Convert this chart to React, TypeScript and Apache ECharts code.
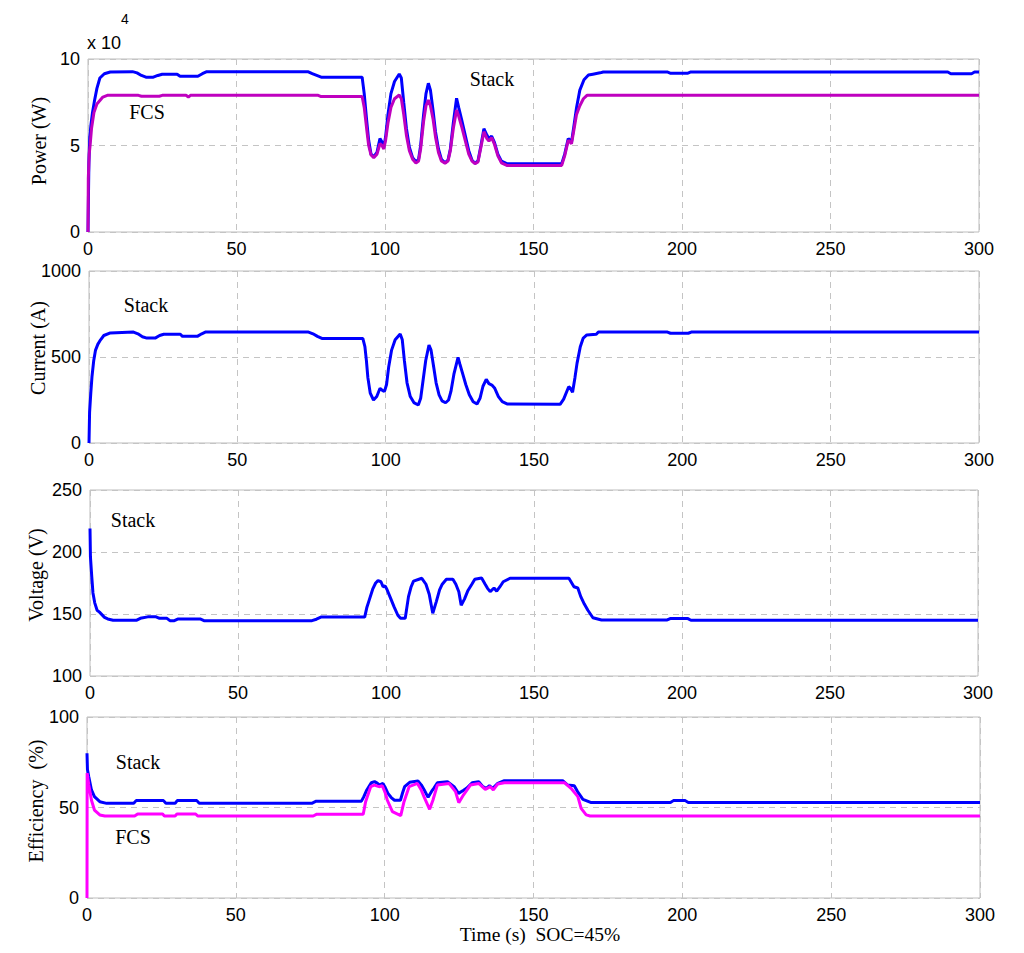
import React, { useEffect, useRef } from "react";
import * as echarts from "echarts";

// Time axis ticks (s)
const timeTicks = [0, 50, 100, 150, 200, 250, 300];

// Power (x 10^4 W)
const stackPower: number[][] = [
  [0, 0], [0.3, 4.0], [0.6, 5.5], [1.0, 6.2], [1.5, 6.9], [2.2, 7.6], [3, 8.3], [4, 8.9], [5.5, 9.15], [7.5, 9.25],
  [15, 9.27], [16.5, 9.2], [18, 9.05], [19.5, 8.95], [22, 8.95], [23.5, 9.05], [25, 9.12], [30, 9.12], [31, 9.0],
  [37, 9.0], [38.5, 9.15], [40, 9.27], [74, 9.27], [75.5, 9.15], [77, 9.05], [78.5, 8.95], [92.3, 8.95], [93, 8.0],
  [93.8, 6.5], [94.5, 5.3], [95.3, 4.5], [96.2, 4.35], [97.3, 4.6], [98.3, 5.4], [99, 5.2], [99.6, 4.9], [100.2, 5.5],
  [101, 6.8], [102, 8.0], [103.2, 8.7], [104.8, 9.13], [105.5, 8.9], [106.3, 7.5], [107.2, 6.0], [108.2, 4.9],
  [109.3, 4.3], [110.4, 4.06], [111.3, 4.2], [112, 5.0], [113, 6.8], [113.8, 8.0], [114.6, 8.6], [115.3, 8.2],
  [116.2, 7.0], [117, 5.8], [118, 4.8], [119, 4.2], [120.2, 4.0], [121.2, 4.15], [122, 4.8], [123, 6.3], [124.1, 7.73],
  [124.8, 7.2], [125.8, 6.5], [127, 5.6], [128.2, 4.7], [129.3, 4.15], [130.3, 3.97], [131.3, 4.1], [132.3, 5.0],
  [133.3, 5.97], [134.3, 5.6], [135, 5.4], [135.9, 5.55], [136.8, 5.2], [138, 4.5], [139.2, 4.1], [141, 3.95],
  [159.5, 3.95], [160.5, 4.5], [161.7, 5.4], [162.3, 5.3], [162.8, 5.2], [163.5, 6.0], [164.5, 7.2], [165.6, 8.2],
  [167, 8.8], [168.5, 9.07], [170, 9.12], [172.4, 9.2], [173.5, 9.25], [195, 9.25], [196, 9.18], [202, 9.18],
  [203, 9.25], [289.5, 9.25], [290.5, 9.15], [297.5, 9.15], [298.5, 9.25], [300, 9.25],
];
const fcsPower: number[][] = [
  [0, 0], [0.1, 3.1], [0.4, 4.5], [0.7, 5.0], [1.2, 6.0], [2, 6.9], [3, 7.4], [4, 7.6], [5, 7.8], [6.5, 7.9],
  [17, 7.9], [18, 7.85], [24, 7.85], [25, 7.9], [33, 7.9], [33.8, 7.8], [34.5, 7.9], [77.5, 7.9], [78.5, 7.83],
  [92.3, 7.83], [93, 7.2], [93.8, 6.0], [94.5, 5.0], [95.3, 4.45], [96.2, 4.3], [97.3, 4.5], [98.3, 5.1], [99, 5.0],
  [99.6, 4.8], [100.2, 5.3], [101, 6.3], [102, 7.2], [103.2, 7.7], [104.8, 7.92], [105.5, 7.7], [106.3, 6.8],
  [107.2, 5.6], [108.2, 4.7], [109.3, 4.2], [110.4, 3.98], [111.3, 4.1], [112, 4.8], [113, 6.4], [113.8, 7.3],
  [114.6, 7.63], [115.3, 7.3], [116.2, 6.5], [117, 5.5], [118, 4.6], [119, 4.1], [120.2, 3.98], [121.2, 4.1],
  [122, 4.7], [123, 6.0], [124.1, 7.05], [124.8, 6.7], [125.8, 6.1], [127, 5.3], [128.2, 4.5], [129.3, 4.1],
  [130.3, 3.95], [131.3, 4.05], [132.3, 4.9], [133.3, 5.8], [134.3, 5.4], [135, 5.25], [135.9, 5.45], [136.8, 5.1],
  [138, 4.4], [139.2, 4.0], [141, 3.85], [159.5, 3.85], [160.5, 4.4], [161.7, 5.3], [162.3, 5.2], [162.8, 5.1],
  [163.5, 5.8], [164.5, 6.8], [165.6, 7.3], [166.8, 7.7], [168, 7.9], [300, 7.9],
];

// Current (A)
const stackCurrent: number[][] = [
  [0, 0], [0.2, 180], [0.6, 290], [1.0, 385], [1.6, 480], [2.2, 540], [3, 575], [3.9, 600], [5, 625], [7.2, 640],
  [15, 645], [16.5, 635], [18, 618], [19.5, 610], [22.3, 610], [23.8, 625], [25.2, 632], [30.8, 632], [31.5, 620],
  [36.5, 620], [38, 635], [39.2, 645], [74, 645], [75.5, 635], [77, 620], [78.5, 608], [92.3, 608], [93, 560],
  [93.5, 480], [94, 380], [94.8, 290], [95.9, 250], [97, 270], [98.1, 318], [99, 305], [99.6, 300], [100.3, 340],
  [101, 440], [102, 540], [103.2, 600], [104.9, 634], [105.6, 600], [106.3, 480], [107.2, 350], [108.3, 270],
  [109.5, 235], [111, 221], [111.8, 260], [112.5, 350], [113.5, 480], [114.6, 570], [115.3, 540], [116.2, 440],
  [117, 350], [118, 280], [119, 245], [120.2, 234], [121.2, 250], [122, 300], [123, 400], [124.4, 498], [125, 460],
  [126, 400], [127, 340], [128.2, 280], [129.5, 240], [130.8, 227], [131.8, 260], [132.8, 330], [133.9, 370],
  [134.8, 345], [135.8, 337], [136.7, 320], [138, 270], [139.3, 240], [140.9, 227], [158.8, 225], [160, 255],
  [161.7, 327], [162.2, 320], [163, 295], [163.8, 380], [164.5, 463], [165.6, 560], [166.6, 610], [167.8, 628],
  [171, 632], [171.7, 645], [195, 645], [196, 638], [202, 638], [203, 645], [300, 645],
];

// Voltage (V)
const stackVoltage: number[][] = [
  [0, 219], [0.15, 196], [0.6, 180], [1.0, 167], [1.6, 159], [2.4, 153], [3.2, 151.5], [4.9, 147.3], [6, 146],
  [7.8, 145], [15.8, 145], [17, 146.5], [19.5, 147.7], [22.3, 147.7], [23.5, 146.5], [26, 146.5], [27, 144.6],
  [28.5, 144.6], [29.8, 146], [37.2, 146], [38.5, 144.6], [75, 144.6], [76.5, 145.8], [78, 147.5], [92.8, 147.5],
  [93.5, 155], [94.3, 161], [95.5, 170], [96.5, 175], [97.3, 176.9], [98.3, 176], [99, 172], [99.7, 172.6],
  [100.3, 170], [101.5, 163], [102.7, 156], [104, 149], [104.9, 146.5], [106.5, 146.5], [107.6, 164], [108.5, 172],
  [109.3, 176.5], [112.1, 178.8], [113.5, 174], [114.6, 166], [115.8, 150.6], [117, 160], [118.1, 169.4], [119, 174],
  [120.4, 178], [122.6, 178], [123.6, 174], [124.6, 168], [125.4, 157], [126.5, 162], [127.7, 169], [129, 174],
  [130, 178], [132.3, 179], [133.5, 174], [134.3, 170.7], [135.2, 168], [136.5, 171], [137.4, 168.4], [138.5, 172],
  [139.6, 176], [141.9, 178.8], [161.8, 178.8], [163, 174], [163.5, 172], [164.8, 171], [165.8, 164], [167, 158],
  [168.2, 153], [169.9, 147], [172.8, 145.2], [195, 145.2], [196, 146.3], [202, 146.3], [203, 145], [300, 145],
];

// Efficiency (%)
const stackEfficiency: number[][] = [
  [0, 80], [0.15, 71], [0.6, 67], [1.5, 59.7], [2.5, 56], [4.3, 53.2], [6.6, 52.3], [15.7, 52.3], [16.5, 53.8],
  [25.7, 53.8], [26.5, 52.3], [29.6, 52.3], [30.3, 53.8], [36.9, 53.8], [37.7, 52.3], [75.5, 52.3], [77, 53.5],
  [92.2, 53.5], [93, 56], [94, 59.7], [95.5, 63.7], [96.6, 64.3], [97.5, 63.5], [98.3, 62.4], [99.4, 63.3],
  [100.2, 61], [101.1, 57.8], [102.2, 55.5], [103.3, 54], [105.3, 54], [106, 58], [106.7, 61.5], [108.4, 63.9],
  [111.2, 64.6], [112.3, 62.5], [113.3, 59.7], [114.6, 55.6], [115.8, 59], [116.5, 60.6], [117.7, 63.7],
  [121.1, 64.3], [123.3, 61.5], [124.8, 57.8], [126.5, 59.5], [127.5, 60.6], [129.4, 63.7], [131.6, 64.3],
  [133, 61.5], [134.1, 60.6], [135.2, 62], [136.3, 60.6], [138, 63.3], [140.2, 64.8], [159.8, 64.8], [161.5, 62.4],
  [163.7, 62], [164.8, 58.8], [166.6, 54.5], [169.4, 52.7], [196, 52.7], [197, 53.8], [201, 53.8], [202, 52.7],
  [300, 52.7],
];
const fcsEfficiency: number[][] = [
  [0, 0], [0.05, 69], [0.6, 62.4], [1.5, 54], [2.5, 48.6], [4.3, 45.9], [6, 45.3], [16, 45.3], [17, 46.4],
  [25.4, 46.4], [26, 45.3], [29.6, 45.3], [30.2, 46.4], [36.5, 46.4], [37.2, 45.3], [76, 45.3], [77.2, 46.3],
  [92.8, 46.3], [93.6, 53.2], [95.3, 61.5], [96.5, 62.4], [98.1, 61.5], [99.2, 62], [100.2, 58], [100.9, 54],
  [102.6, 47.7], [105.4, 45.5], [106.5, 53.2], [108.2, 61.5], [111, 63.3], [112.2, 60], [113.2, 56], [115.1, 49],
  [116.2, 54], [117.7, 62.4], [121.6, 63.3], [123.8, 58.8], [124.9, 52.7], [126.5, 57], [128.8, 62.4],
  [131.6, 63.3], [133.8, 60], [135.5, 61.5], [136.5, 59.7], [138, 63], [140.2, 63.7], [160.4, 63.7], [162.6, 60.6],
  [164.9, 56], [166, 49.5], [167.7, 45.9], [169, 45.3], [300, 45.3],
];

// y-axis ranges [min, max, interval]
const powerRange = [0, 10, 5];
const currentRange = [0, 1000, 500];
const voltageRange = [100, 250, 50];
const efficiencyRange = [0, 100, 50];

const SANS = "Liberation Sans, Arial, sans-serif";
const SERIF = "Liberation Serif, Times New Roman, serif";
const BLUE = "#0000ff";

const grids = [
  { left: 88, top: 59, width: 891, height: 173 },
  { left: 89, top: 271, width: 890, height: 172 },
  { left: 90, top: 490, width: 888, height: 186 },
  { left: 87, top: 717, width: 893, height: 181 },
];

export default function App() {
  const ref = useRef<HTMLDivElement>(null);
  useEffect(() => {
    if (!ref.current) return;
    const chart = echarts.init(ref.current, undefined, { renderer: "svg" });
    const ranges = [powerRange, currentRange, voltageRange, efficiencyRange];
    const splitStyle = { show: true, lineStyle: { color: "#c4c4c4", type: [6, 5] as any, width: 1 } };
    const xAxis = grids.map((_, i) => ({
      type: "value",
      gridIndex: i,
      min: timeTicks[0],
      max: timeTicks[timeTicks.length - 1],
      interval: 50,
      axisLine: { show: false },
      axisTick: { show: false },
      axisLabel: { color: "#000", fontFamily: SANS, fontSize: 18, margin: 8, formatter: (v: number) => String(v) },
      splitLine: splitStyle,
    }));
    const yAxis = ranges.map((r, i) => ({
      type: "value",
      gridIndex: i,
      min: r[0],
      max: r[1],
      interval: r[2],
      axisLine: { show: false },
      axisTick: { show: false },
      axisLabel: { color: "#000", fontFamily: SANS, fontSize: 18, margin: 8, formatter: (v: number) => String(v) },
      splitLine: splitStyle,
    }));
    const mk = (data: number[][], idx: number, color: string, z: number) => ({
      type: "line",
      xAxisIndex: idx,
      yAxisIndex: idx,
      data,
      showSymbol: false,
      symbol: "none",
      lineStyle: { color, width: 3 },
      z,
    });
    const txt = (text: string, x: number, y: number, size = 20, font = SERIF, rotate = 0) => ({
      type: "text",
      x,
      y,
      rotation: rotate,
      style: {
        text,
        fill: "#000",
        font: `${size}px ${font}`,
        textAlign: "center",
        textVerticalAlign: "middle",
      },
      z: 100,
    });
    chart.setOption({
      animation: false,
      backgroundColor: "#fff",
      grid: grids.map((g) => ({ ...g, show: true, borderColor: "#bdbdbd", borderWidth: 1, containLabel: false })),
      xAxis,
      yAxis,
      series: [
        mk(stackPower, 0, BLUE, 2),
        mk(fcsPower, 0, "#bf00bf", 3),
        mk(stackCurrent, 1, BLUE, 2),
        mk(stackVoltage, 2, BLUE, 2),
        mk(stackEfficiency, 3, BLUE, 2),
        mk(fcsEfficiency, 3, "#ff00ff", 3),
      ],
      graphic: [
        { type: "text", left: 87, top: 34, style: { text: "x 10", fill: "#000", font: `18px ${SANS}` }, z: 100 },
        { type: "text", left: 121, top: 12, style: { text: "4", fill: "#000", font: `14px ${SANS}` }, z: 100 },
        txt("Power (W)", 39, 141, 20, SERIF, Math.PI / 2),
        txt("Current (A)", 38, 348, 20, SERIF, Math.PI / 2),
        txt("Voltage (V)", 36, 575, 20, SERIF, Math.PI / 2),
        txt("Efficiency  (%)", 36, 801, 20, SERIF, Math.PI / 2),
        txt("Stack", 492, 79),
        txt("FCS", 147, 112),
        txt("Stack", 146, 305),
        txt("Stack", 133, 520),
        txt("Stack", 138, 762),
        txt("FCS", 133, 837),
        txt("Time (s)  SOC=45%", 540, 934, 19.5),
      ],
    });
    return () => chart.dispose();
  }, []);
  return (
    <div
      ref={ref}
      style={{ position: "absolute", left: 0, top: 0, width: 1024, height: 953, background: "#fff" }}
    />
  );
}
